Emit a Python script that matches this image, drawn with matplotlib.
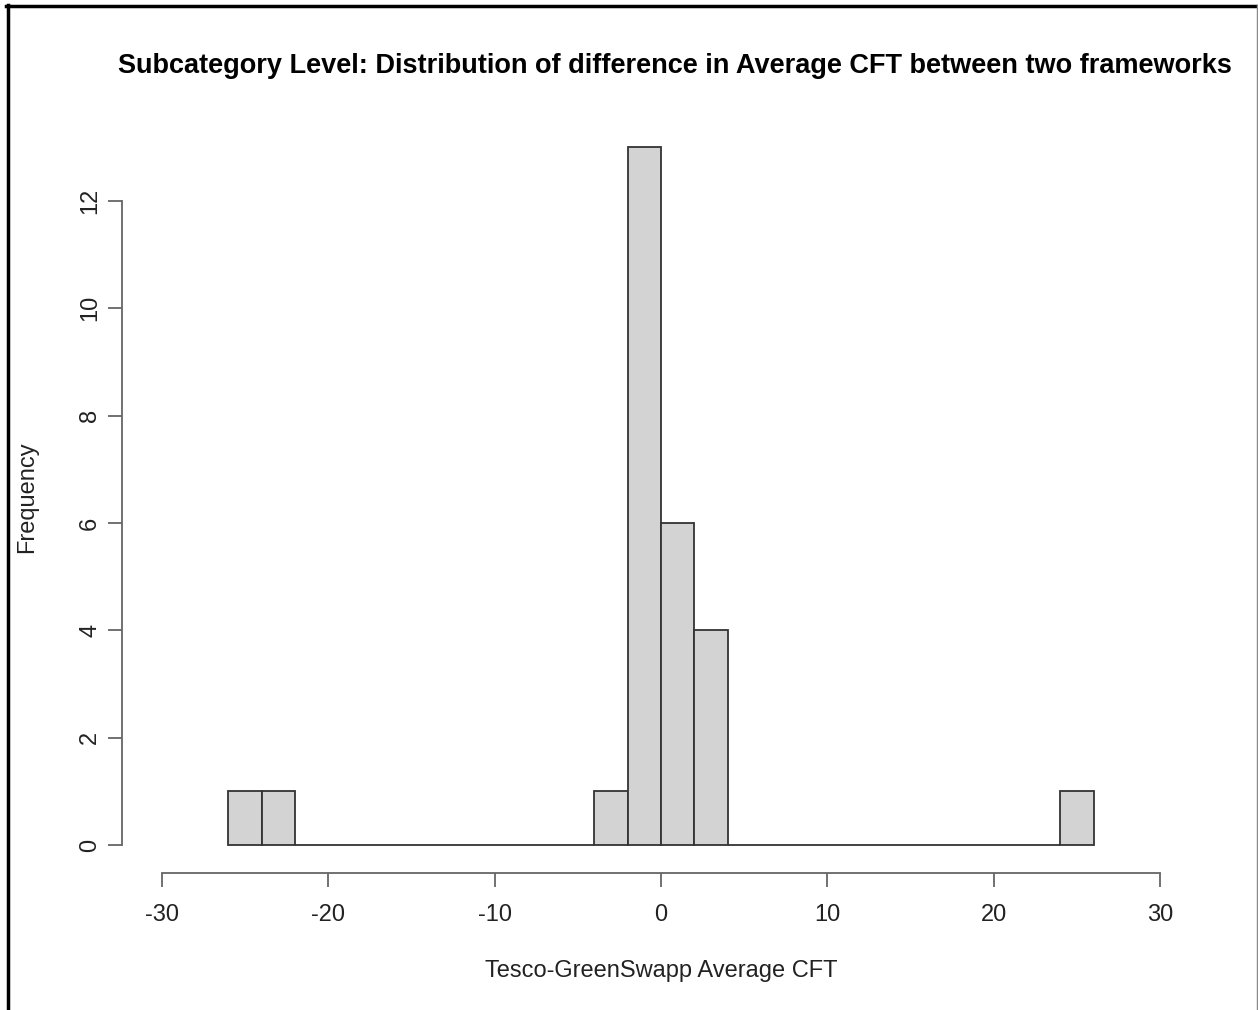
import numpy as np
import matplotlib.pyplot as plt
from matplotlib.lines import Line2D

plt.rcParams['font.family'] = ['Liberation Sans', 'DejaVu Sans']

# histogram bins (width 2) and counts of Tesco - GreenSwapp differences
bin_edges = np.arange(-26, 27, 2)
counts = [1, 1, 0, 0, 0, 0, 0, 0, 0, 0, 0, 1, 13, 6, 4,
          0, 0, 0, 0, 0, 0, 0, 0, 0, 0, 1]

x_ticks = [-30, -20, -10, 0, 10, 20, 30]
y_ticks = [0, 2, 4, 6, 8, 10, 12]

W, H = 1258, 1010
fig = plt.figure(figsize=(W / 100, H / 100), dpi=100)
ax = fig.add_axes([0.0970, 0.1356, 0.8569, 0.7465])

ax.bar(bin_edges[:-1], counts, width=np.diff(bin_edges), align='edge',
       color='#D3D3D3', edgecolor='#333333', linewidth=1.3)

ax.set_xlim(-32.4, 32.4)
ax.set_ylim(-0.52, 13.52)

for s in ['top', 'right']:
    ax.spines[s].set_visible(False)
ax.spines['left'].set_bounds(0, 12)
ax.spines['bottom'].set_bounds(-30, 30)
for s in ['left', 'bottom']:
    ax.spines[s].set_color('#666666')
    ax.spines[s].set_linewidth(1.3)

ax.set_xticks(x_ticks)
ax.set_xticklabels([str(v) for v in x_ticks])
ax.set_yticks(y_ticks)
ax.set_yticklabels([str(v) for v in y_ticks], rotation=90, va='center')
ax.tick_params(axis='both', length=10, width=1.3, color='#666666',
               labelsize=17, labelcolor='#222222')
ax.tick_params(axis='x', pad=12)
ax.tick_params(axis='y', pad=5)

fig.text(661 / W, 1 - 971 / H, 'Tesco-GreenSwapp Average CFT',
         ha='center', va='center', fontsize=17, color='#222222')
fig.text(27 / W, 1 - 497 / H, 'Frequency', rotation=90,
         ha='center', va='center', fontsize=17, color='#222222')
fig.text(675 / W, 1 - 66 / H,
         'Subcategory Level: Distribution of difference in Average CFT between two frameworks',
         ha='center', va='center', fontsize=19.5, fontweight='bold')

# outer frame
fig.add_artist(Line2D([7.5 / W, 7.5 / W], [0, 1 - 5 / H],
                      color='black', linewidth=2.5, transform=fig.transFigure))
fig.add_artist(Line2D([6 / W, 1], [1 - 5.5 / H, 1 - 5.5 / H],
                      color='black', linewidth=2.5, transform=fig.transFigure))
fig.add_artist(Line2D([1256.5 / W, 1256.5 / W], [0, 1 - 5 / H],
                      color='#888888', linewidth=1.0, transform=fig.transFigure))

fig.savefig('out.png', dpi=100)
